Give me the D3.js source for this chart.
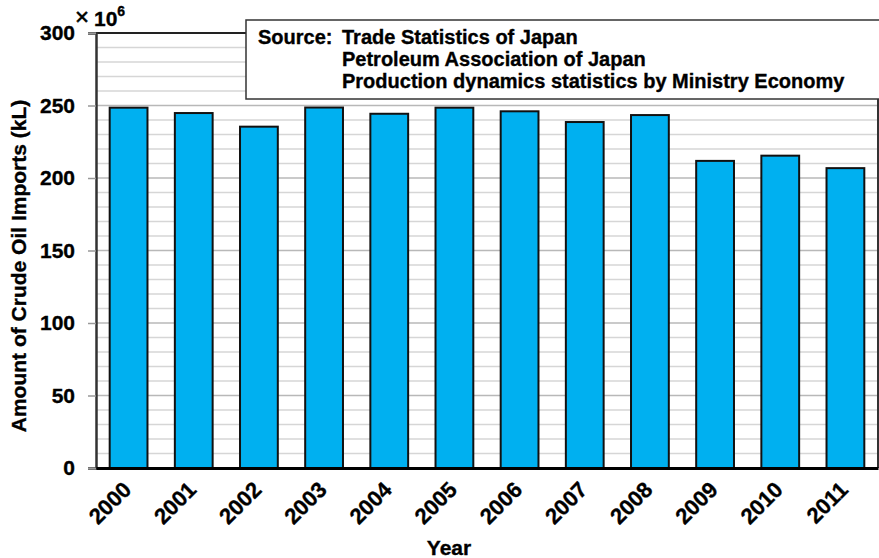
<!DOCTYPE html>
<html><head><meta charset="utf-8">
<script src="https://cdn.jsdelivr.net/npm/d3@7"></script>
<style>body{margin:0;background:#fff}svg{display:block}text{font-family:Arial,"Liberation Sans",sans-serif;font-weight:bold;fill:#000;stroke:#000;stroke-width:0.35px}</style>
</head><body>
<svg id="c" width="879" height="558"></svg>
<script>
const years = ["2000","2001","2002","2003","2004","2005","2006","2007","2008","2009","2010","2011"];
const imports = [248.5, 244.8, 235.4, 248.6, 244.3, 248.5, 246.0, 238.6, 243.4, 211.8, 215.4, 206.8];
const yTicks = [0, 50, 100, 150, 200, 250, 300];
const sourceLines = ["Trade Statistics of Japan", "Petroleum Association of Japan", "Production dynamics statistics by Ministry Economy"];

const FONT = "Arial, 'Liberation Sans', sans-serif";
const svg = d3.select("#c");
const L = 96, R = 878, T = 33, B = 468;
const x = d3.scaleBand().domain(years).range([L, R]).paddingInner(0.42).paddingOuter(0.21);
const y = d3.scaleLinear().domain([0, 300]).range([B, T]);

// gridlines
const grid = d3.range(10, 300, 10);
svg.append("g").selectAll("line").data(grid).join("line")
  .attr("x1", L).attr("x2", R).attr("y1", d => y(d)).attr("y2", d => y(d))
  .attr("stroke", d => d % 50 === 0 ? "#b8b8b8" : "#d6d6d6").attr("stroke-width", 1.5);

// bars
svg.append("g").selectAll("rect").data(imports).join("rect")
  .attr("x", (d, i) => x(years[i])).attr("width", x.bandwidth())
  .attr("y", d => y(d)).attr("height", d => B - y(d))
  .attr("fill", "#00b0f0").attr("stroke", "#111").attr("stroke-width", 2);

// top & right frame
svg.append("line").attr("x1", L).attr("x2", R).attr("y1", T).attr("y2", T).attr("stroke", "#222").attr("stroke-width", 2);
svg.append("line").attr("x1", R).attr("x2", R).attr("y1", T).attr("y2", B).attr("stroke", "#333").attr("stroke-width", 2);

// y axis
const ya = svg.append("g").attr("transform", `translate(${L},0)`)
  .call(d3.axisLeft(y).tickValues(yTicks).tickSize(8).tickPadding(13));
ya.select(".domain").attr("stroke", "#333").attr("stroke-width", 2.5);
ya.selectAll(".tick line").attr("stroke", "#999").attr("stroke-width", 1.5);
ya.selectAll("text").style("font-size", "21px").attr("fill", "#000").attr("font-family", FONT).attr("font-weight", "bold");

// x axis
const xa = svg.append("g").attr("transform", `translate(0,${B})`)
  .call(d3.axisBottom(x).tickSize(0).tickPadding(0));
xa.select(".domain").attr("stroke", "#000").attr("stroke-width", 3);
xa.selectAll("text").style("font-size", "22px").attr("font-family", FONT).attr("font-weight", "bold").attr("fill", "#000")
  .attr("text-anchor", "end").attr("dy", "0").attr("y", 0)
  .attr("transform", "translate(4,23) rotate(-45)");

// axis titles
svg.append("text").attr("transform", "translate(26,266) rotate(-90)").attr("text-anchor", "middle")
  .style("font-size", "21px").text("Amount of Crude Oil Imports (kL)");
svg.append("text").attr("x", 449).attr("y", 555).attr("text-anchor", "middle").style("font-size", "21px").text("Year");

// multiplier
svg.append("text").attr("x", 75).attr("y", 25).style("font-size", "24px").style("font-weight", "normal").style("stroke-width", "0.6px").text("×");
const m = svg.append("text").attr("x", 94).attr("y", 26).style("font-size", "21px");
m.append("tspan").text("10");
m.append("tspan").attr("dy", -10).style("font-size", "14px").text("6");

// source box
svg.append("rect").attr("x", 246).attr("y", 20).attr("width", 640).attr("height", 79)
  .attr("fill", "#fff").attr("stroke", "#333").attr("stroke-width", 1.5);
svg.append("text").attr("x", 258).attr("y", 44).style("font-size", "20px").text("Source:");
svg.append("g").selectAll("text").data(sourceLines).join("text")
  .attr("x", 342).attr("y", (d, i) => 44 + i * 22).style("font-size", "20px").text(d => d);
</script>
</body></html>
